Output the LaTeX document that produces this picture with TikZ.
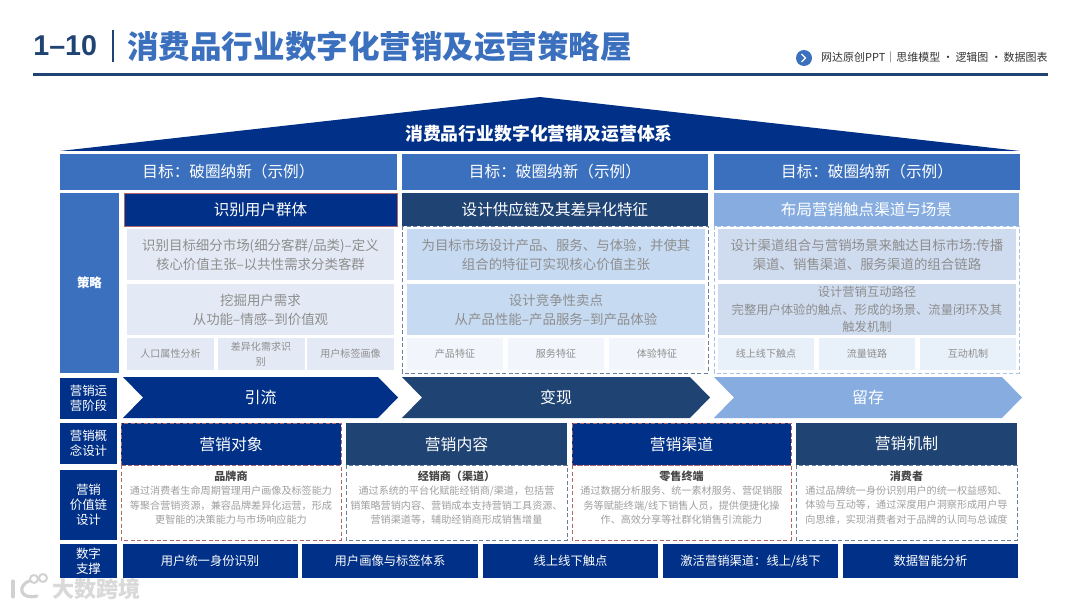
\documentclass[tikz,border=0pt]{standalone}
\usepackage{fontspec}
\setmainfont{Noto Sans CJK SC}
\newfontfamily\numfont{Liberation Sans}
\usetikzlibrary{positioning}
\definecolor{navy}{HTML}{003087}
\definecolor{deepblue}{HTML}{1F4373}
\definecolor{midblue}{HTML}{3B70BE}
\definecolor{softblue}{HTML}{86ACE0}
\definecolor{panela}{HTML}{E3EAF5}
\definecolor{panelb}{HTML}{C6DAF2}
\definecolor{panelc}{HTML}{CFDCF0}
\definecolor{cellb}{HTML}{F2F6FC}
\definecolor{cellc}{HTML}{E8F0FA}
\definecolor{greytext}{HTML}{8E8E8E}
\definecolor{redline}{HTML}{B0666B}
\definecolor{slateline}{HTML}{6A7F9C}
\definecolor{paleline}{HTML}{A8C3E9}
\tikzset{
  base/.style={inner sep=0pt,outer sep=0pt,align=center},
  goalbox/.style={base,fill=midblue,text=white,font=\fontsize{8.9}{10}\selectfont},
  sidebox/.style={base,fill=navy,text=white,font=\fontsize{7.1}{8.5}\selectfont},
  headbox/.style={base,fill=#1,text=white,font=\fontsize{8.85}{10}\selectfont},
  panelbox/.style={base,fill=#1,text=greytext,font=\fontsize{7.65}{10.8}\selectfont},
  cellbox/.style={base,fill=#1,text=greytext,font=\fontsize{5.7}{8.6}\selectfont},
  stagetext/.style={base,text=white,font=\fontsize{9.1}{11}\selectfont},
  conceptbox/.style={base,fill=#1,text=white,font=\fontsize{9}{11}\selectfont},
  supportbox/.style={base,fill=navy,text=white,font=\fontsize{7}{9}\selectfont},
  whotext/.style={base,text=black!72,font=\fontsize{6.3}{8}\selectfont\bfseries},
  desctext/.style={base,text=greytext!85,font=\fontsize{5.75}{8.3}\selectfont},
  dashframe/.style={draw=#1,line width=0.55pt,dash pattern=on 2.4pt off 1.3pt},
}
\newcommand{\pxbox}[7]{%
  \pgfmathsetmacro\cxpos{(#3+#5)/2}\pgfmathsetmacro\cypos{(#4+#6)/2}%
  \node (#1) [#2,minimum width={(#5-#3)*0.02cm},minimum height={(#6-#4)*0.02cm}] at (\cxpos,\cypos) {#7};}
\newcommand{\stagearrow}[5]{%
  \fill[#1] (#2,377)--(#4-20,377)--(#4,397.5)--(#4-20,418)--(#2,418)--(#2+20,397.5)--cycle;
  \node (#3) [stagetext] at (#2/2+#4/2,397.5) {#5};}
\begin{document}
\begin{tikzpicture}[x=0.02cm,y=-0.02cm]
\path[use as bounding box,fill=white] (0,0) rectangle (1080,608);

\node (num) [anchor=west,inner sep=0pt,text=deepblue,font=\numfont\fontsize{16.3}{20}\selectfont\bfseries] at (33,46) {1–10};
\draw[deepblue,line width=1.3pt] (113,30)--(113,62);
\node (title) [anchor=west,inner sep=0pt,text=midblue,font=\fontsize{17.95}{20}\selectfont\bfseries] at (127,47) {消费品行业数字化营销及运营策略屋};
\fill[deepblue] (33,73) rectangle (1048,76);
\node (tagdot) [circle,fill=midblue,minimum size=16*0.02cm,inner sep=0pt] at (804,58) {};
\draw[white,line width=0.8pt] (801.5,54)--(805.5,58)--(801.5,62);
\node (tag) [anchor=east,inner sep=0pt,text=black!80,font=\fontsize{6.25}{8}\selectfont] at (1048,57) {网达原创PPT｜思维模型 ·\,逻辑图 ·\,数据图表};

\fill[navy] (60,151)--(540,97)--(1020,151)--cycle;
\node (roof) [base,text=white,font=\fontsize{10.15}{12}\selectfont\bfseries] at (539,134) {消费品行业数字化营销及运营体系};

\pxbox{goala}{goalbox}{60}{154}{397}{190}{目标：破圈纳新（示例）}
\pxbox{goalb}{goalbox}{402}{154}{708}{190}{目标：破圈纳新（示例）}
\pxbox{goalc}{goalbox}{714}{154}{1020}{190}{目标：破圈纳新（示例）}

\pxbox{strategy}{goalbox,font=\fontsize{7.1}{8.5}\selectfont\bfseries}{60}{193}{119}{373}{策略}

\pxbox{heada}{headbox=navy,draw=redline,line width=0.5pt}{124}{193}{397}{226}{识别用户群体}
\pxbox{paa}{panelbox=panela}{127}{229}{394}{280}{识别目标细分市场(细分客群/品类)–定义\\核心价值主张–以共性需求分类客群}
\pxbox{pab}{panelbox=panela}{127}{284}{394}{335}{挖掘用户需求\\从功能–情感–到价值观}
\pxbox{caa}{cellbox=panela}{127}{338}{214}{370}{人口属性分析}
\pxbox{cab}{cellbox=panela}{217.5}{338}{304.5}{370}{差异化需求识\\别}
\pxbox{cac}{cellbox=panela}{307}{338}{394}{370}{用户标签画像}

\draw[dashframe=slateline] (402,226) rectangle (708,373);
\pxbox{headb}{headbox=deepblue}{402}{193}{708}{226}{设计供应链及其差异化特征}
\pxbox{pba}{panelbox=panelb}{407}{229}{705}{280}{为目标市场设计产品、服务、与体验，并使其\\组合的特征可实现核心价值主张}
\pxbox{pbb}{panelbox=panelb}{407}{284}{705}{335}{设计竞争性卖点\\从产品性能–产品服务–到产品体验}
\pxbox{cba}{cellbox=cellb}{407}{338}{503}{370}{产品特征}
\pxbox{cbb}{cellbox=cellb}{508}{338}{604}{370}{服务特征}
\pxbox{cbc}{cellbox=cellb}{609}{338}{705}{370}{体验特征}

\draw[dashframe=paleline] (714,226) rectangle (1019,373);
\pxbox{headc}{headbox=softblue}{714}{193}{1019}{226}{布局营销触点渠道与场景}
\pxbox{pca}{panelbox=panelc}{718}{229}{1016}{280}{设计渠道组合与营销场景来触达目标市场:传播\\渠道、销售渠道、服务渠道的组合链路}
\pxbox{pcb}{panelbox=panelc,font=\fontsize{7}{10}\selectfont}{718}{284}{1016}{335}{设计营销互动路径\\完整用户体验的触点、形成的场景、流量闭环及其\\触发机制}
\pxbox{cca}{cellbox=cellc}{718}{338}{814}{370}{线上线下触点}
\pxbox{ccb}{cellbox=cellc}{819}{338}{915}{370}{流量链路}
\pxbox{ccc}{cellbox=cellc}{920}{338}{1016}{370}{互动机制}

\pxbox{stage}{sidebox}{60}{378}{117}{419}{营销运\\营阶段}
\stagearrow{navy}{123}{sa}{398}{引流}
\stagearrow{deepblue}{402}{sb}{710}{变现}
\stagearrow{softblue}{714}{sc}{1022}{留存}

\pxbox{concept}{sidebox}{60}{423}{117}{464}{营销概\\念设计}
\pxbox{value}{sidebox}{60}{470}{117}{540}{营销\\价值链\\设计}
\pxbox{digital}{sidebox}{60}{544}{117}{578}{数字\\支撑}

\draw[dashframe=redline] (121,465) rectangle (341,540);
\draw[dashframe=slateline] (346,465) rectangle (567,540);
\draw[dashframe=redline] (572,465) rectangle (791,540);
\draw[dashframe=slateline] (796,465) rectangle (1017,540);
\pxbox{ca}{conceptbox=navy,dashframe=redline}{121}{423}{341}{465}{营销对象}
\pxbox{cb}{conceptbox=deepblue}{346}{423}{567}{465}{营销内容}
\pxbox{cc}{conceptbox=navy,dashframe=redline}{572}{423}{791}{465}{营销渠道}
\pxbox{cd}{conceptbox=deepblue}{796}{423}{1017}{465}{营销机制}

\node (wa) [whotext] at (231,476) {品牌商};
\node (wb) [whotext] at (456.5,476) {经销商（渠道）};
\node (wc) [whotext] at (681.5,476) {零售终端};
\node (wd) [whotext] at (906.5,476) {消费者};
\node (da) [desctext,below=2.6pt of wa] {通过消费者生命周期管理用户画像及标签能力\\等聚合营销资源，兼容品牌差异化运营，形成\\更智能的决策能力与市场响应能力};
\node (db) [desctext,below=2.6pt of wb] {通过系统的平台化赋能经销商/渠道，包括营\\销策略营销内容、营销成本支持营销工具资源、\\营销渠道等，辅助经销商形成销售增量};
\node (dc) [desctext,below=2.6pt of wc] {通过数据分析服务、统一素材服务、营促销服\\务等赋能终端/线下销售人员，提供便捷化操\\作、高效分享等社群化销售引流能力};
\node (dd) [desctext,below=2.6pt of wd] {通过品牌统一身份识别用户的统一权益感知、\\体验与互动等，通过深度用户洞察形成用户导\\向思维，实现消费者对于品牌的认同与总诚度};

\pxbox{sa}{supportbox}{122.5}{544}{297.5}{578}{用户统一身份识别}
\pxbox{sb}{supportbox}{302}{544}{478}{578}{用户画像与标签体系}
\pxbox{sc}{supportbox}{483}{544}{658}{578}{线上线下触点}
\pxbox{sd}{supportbox}{663}{544}{838}{578}{激活营销渠道：线上/线下}
\pxbox{se}{supportbox}{843}{544}{1018}{578}{数据智能分析}

\draw[black!18,line width=1.8pt,line cap=round] (13,581)--(13,597);
\draw[black!18,line width=1.8pt,line cap=round] (29,581) .. controls (17,586) and (20,600) .. (37,596);
\draw[black!18,line width=1.1pt] (34,579) circle[radius=4] (43,578) circle[radius=4];
\node (mark) [anchor=west,inner sep=0pt,text=black!15,font=\fontsize{12.6}{14}\selectfont\bfseries] at (52,589) {大数跨境};
\end{tikzpicture}
\end{document}
